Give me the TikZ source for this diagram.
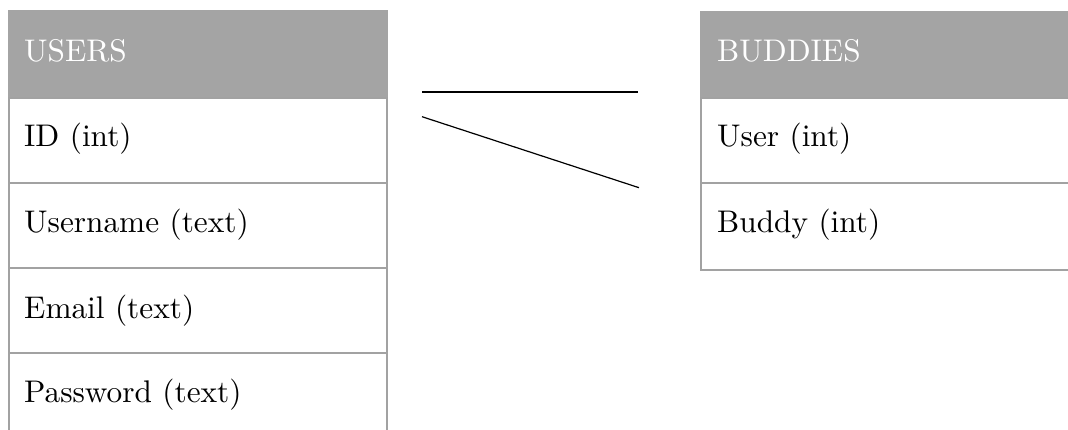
\documentclass[tikz,border=0pt]{standalone}
\definecolor{headgray}{HTML}{A4A4A4}
\definecolor{gridgray}{HTML}{A2A2A2}
% cell text: the 10pt design size, enlarged
\newcommand{\cellword}[1]{\scalebox{3.13}{\fontsize{10}{12}\selectfont #1}}
\tikzset{
  headcell/.style={fill=headgray},
  fieldcell/.style={draw=gridgray, line width=2pt},
  headlabel/.style={anchor=base west, inner sep=0pt, text=white},
  fieldlabel/.style={anchor=base west, inner sep=0pt, text=black},
  relation/.style={draw=black, line width=1.2pt},
}
\begin{document}
\begin{tikzpicture}[x=1pt, y=-1pt]
\useasboundingbox (0,0) rectangle (1068,430);
\clip (0,0) rectangle (1068,430);

% USERS table
\fill[headcell] (8,10) rectangle (388,98);
\draw[fieldcell] (9,98) rectangle (387,183);
\draw[fieldcell] (9,183) rectangle (387,268);
\draw[fieldcell] (9,268) rectangle (387,353);
\draw[fieldcell] (9,353) rectangle (387,450);
\node[headlabel]  (usersHead) at (24,61.5) {\cellword{USERS}};
\node[fieldlabel] (usersId)   at (24,147)  {\cellword{ID (int)}};
\node[fieldlabel] (usersName) at (24,233)  {\cellword{Username (text)}};
\node[fieldlabel] (usersMail) at (24,318)  {\cellword{Email (text)}};
\node[fieldlabel] (usersPass) at (24,402)  {\cellword{Password (text)}};

% BUDDIES table
\fill[headcell] (700,11) rectangle (1090,98);
\draw[fieldcell] (701,98) rectangle (1090,183);
\draw[fieldcell] (701,183) rectangle (1090,270);
\node[headlabel]  (budHead)  at (717,61.5) {\cellword{BUDDIES}};
\node[fieldlabel] (budUser)  at (717,147)  {\cellword{User (int)}};
\node[fieldlabel] (budBuddy) at (717,233)  {\cellword{Buddy (int)}};

% relation lines between the tables
\coordinate (relAfrom) at (422,92);
\coordinate (relAto)   at (638,92);
\coordinate (relBfrom) at (422,116.7);
\coordinate (relBto)   at (639,187.7);
\draw[relation] (relAfrom) -- (relAto);
\draw[relation] (relBfrom) -- (relBto);
\end{tikzpicture}
\end{document}
